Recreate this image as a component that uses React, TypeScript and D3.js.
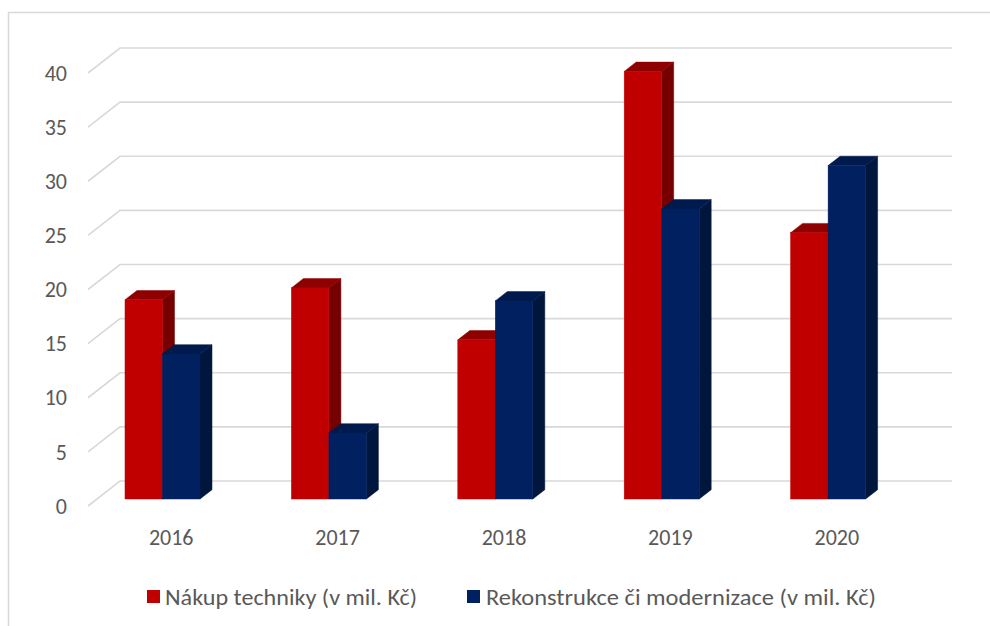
import React from "react";
import * as d3 from "d3";

const years = ["2016", "2017", "2018", "2019", "2020"];
const nakup = [18.4, 19.5, 14.7, 39.5, 24.6];
const rekonstrukce = [13.4, 6.1, 18.3, 26.8, 30.8];
const yTicks = [0, 5, 10, 15, 20, 25, 30, 35, 40];
const seriesNames = ["Nákup techniky (v mil. Kč)", "Rekonstrukce či modernizace (v mil. Kč)"];

const W = 990, H = 626;
const FONT = "Calibri, Carlito, Lato, 'Open Sans', sans-serif";
const TXT = "#595959";
const GRID = "#d9d9d9";

// 3D geometry
const DEPTH_X = 32, DEPTH_Y = -25;          // floor depth
const BAR_OFF_X = 9, BAR_OFF_Y = -7;         // bar front plane offset
const BAR_DX = 12, BAR_DY = -9.3;            // bar depth
const BAR_W = 37.5;
const BAR_START = 28;                        // from band start in bar plane

const colors = [
  { front: "#C00000", top: "#8f0000", side: "#760000" },
  { front: "#002060", top: "#001a4e", side: "#00163c" },
];

export default function App() {
  const x = d3.scaleBand<string>().domain(years).range([88, 88 + 832]).paddingInner(0).paddingOuter(0);
  const y = d3.scaleLinear().domain([0, 40]).range([506, 73]);
  const series = [nakup, rekonstrukce];

  const bars: JSX.Element[] = [];
  years.forEach((yr, i) => {
    series.forEach((vals, s) => {
      const v = vals[i];
      const x0 = (x(yr) as number) + BAR_OFF_X + BAR_START + s * BAR_W;
      const x1 = x0 + BAR_W;
      const yb = y(0) + BAR_OFF_Y;
      const yt = y(v) + BAR_OFF_Y;
      const c = colors[s];
      bars.push(
        <g key={`${yr}-${s}`}>
          <polygon
            points={`${x1},${yb} ${x1 + BAR_DX},${yb + BAR_DY} ${x1 + BAR_DX},${yt + BAR_DY} ${x1},${yt}`}
            fill={c.side}
            stroke={c.side}
            strokeWidth={0.5}
          />
          <polygon
            points={`${x0},${yt} ${x0 + BAR_DX},${yt + BAR_DY} ${x1 + BAR_DX},${yt + BAR_DY} ${x1},${yt}`}
            fill={c.top}
            stroke={c.top}
            strokeWidth={0.5}
          />
          <rect x={x0} y={yt} width={BAR_W} height={yb - yt} fill={c.front} stroke={c.front} strokeWidth={0.5} />
        </g>
      );
    });
  });

  const x0 = 88, x1 = 88 + 832;

  return (
    <svg width={W} height={H} style={{ position: "absolute", left: 0, top: 0, background: "#fff" }}>
      <rect x={0} y={0} width={W} height={H} fill="#fff" />
      {/* frame */}
      <path d={`M8.5,${H} L8.5,12.5 L${W},12.5`} fill="none" stroke={GRID} strokeWidth={1.5} />
      {/* gridlines */}
      {yTicks.map((t) => (
        <g key={t}>
          <path
            d={`M${x0},${y(t)} L${x0 + DEPTH_X},${y(t) + DEPTH_Y} L${x1 + DEPTH_X},${y(t) + DEPTH_Y}`}
            fill="none"
            stroke={GRID}
            strokeWidth={1.6}
          />
          <text
            x={67}
            y={y(t)}
            dy="0.35em"
            textAnchor="end"
            fontFamily={FONT}
            fontSize={22}
            fill={TXT}
          >
            {t}
          </text>
        </g>
      ))}
      {bars}
      {years.map((yr) => (
        <text
          key={yr}
          x={(x(yr) as number) + x.bandwidth() / 2}
          y={537}
          dy="0.35em"
          textAnchor="middle"
          fontFamily={FONT}
          fontSize={22}
          fill={TXT}
        >
          {yr}
        </text>
      ))}
      {/* legend */}
      <g>
        <rect x={147} y={590} width={13} height={13} fill={colors[0].front} />
        <text x={165} y={597} dy="0.35em" fontFamily={FONT} fontSize={22} fill={TXT} textLength={252} lengthAdjust="spacingAndGlyphs">
          {seriesNames[0]}
        </text>
        <rect x={467} y={590} width={13} height={13} fill={colors[1].front} />
        <text x={486} y={597} dy="0.35em" fontFamily={FONT} fontSize={22} fill={TXT} textLength={390} lengthAdjust="spacingAndGlyphs">
          {seriesNames[1]}
        </text>
      </g>
    </svg>
  );
}
